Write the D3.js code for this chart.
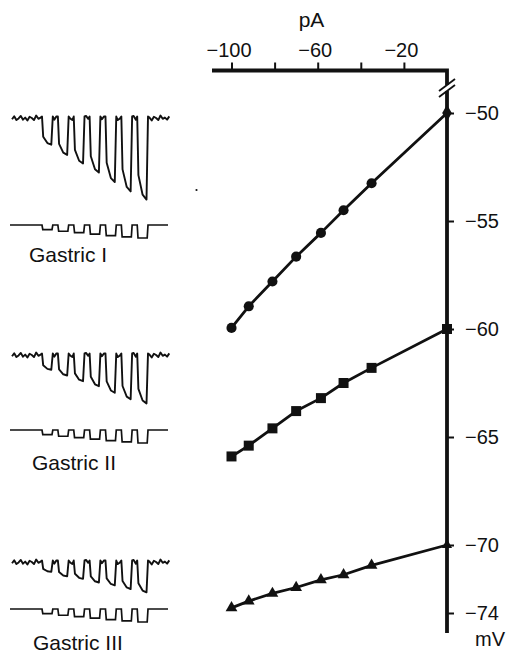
<!DOCTYPE html>
<html>
<head>
<meta charset="utf-8">
<script src="https://cdn.jsdelivr.net/npm/d3@7"></script>
<style>
  body { margin: 0; background: #fff; }
  text { font-family: "Liberation Sans", Arial, sans-serif; fill: #111; }
</style>
</head>
<body>
<script>
// injected current (pA) and the steady membrane potential (mV) it gave
var currents = [-100, -92, -81, -70, -58.5, -48, -35, 0];
var gastricI = [-59.95, -58.95, -57.8, -56.65, -55.55, -54.5, -53.25, -50];
var gastricII = [-65.9, -65.4, -64.6, -63.8, -63.2, -62.5, -61.8, -60];
var gastricIII = [-73.7, -73.3, -72.85, -72.5, -72.05, -71.75, -71.2, -70];
var names = ["Gastric I", "Gastric II", "Gastric III"];

var xTicks = [-100, -80, -60, -40, -20];
var xTickLabels = [-100, -60, -20];
var yTicks = [-50, -55, -60, -65, -70, -74];

// baseline wiggle of the recorded voltage traces (mV)
var noise = [0.15, -0.2, 0.25, 0.05, -0.25, 0.2, -0.05, 0.3, -0.15, 0.0, 0.25, -0.3, 0.1, -0.05, 0.2, -0.2, 0.05, 0.25, -0.25, 0.1];

var width = 507,
  height = 653;

var svg = d3
  .select("body")
  .append("svg")
  .attr("width", width)
  .attr("height", height);

var x = d3.scaleLinear().domain([-100, 0]).range([231.5, 447]);
// bottom part of the voltage axis is squeezed in the original
var y = d3.scaleLinear().domain([-50, -70, -74]).range([113, 545, 613]);

var axisTop = 70.5,
  axisLeft = 212,
  axisBottom = 633;

//------------AXES--------------
svg
  .append("g")
  .attr("transform", "translate(0," + axisTop + ")")
  .call(
    d3
      .axisTop(x)
      .tickValues(xTicks)
      .tickSize(8)
      .tickPadding(6)
      .tickFormat(function(d) {
        return xTickLabels.indexOf(d) >= 0 ? d3.format("d")(d) : "";
      })
  )
  .call(function(g) {
    g.select(".domain").remove();
    g.selectAll(".tick line").attr("stroke", "#111").attr("stroke-width", 2);
    g.selectAll(".tick text")
      .attr("font-size", 20)
      .attr("dx", -3)
      .style("font-family", '"Liberation Sans", Arial, sans-serif');
  });

svg
  .append("g")
  .attr("transform", "translate(" + x(0) + ",0)")
  .call(d3.axisRight(y).tickValues(yTicks).tickSize(7).tickPadding(11).tickFormat(d3.format("d")))
  .call(function(g) {
    g.select(".domain").remove();
    g.selectAll(".tick line").attr("stroke", "#111").attr("stroke-width", 2);
    g.selectAll(".tick text")
      .attr("font-size", 20)
      .style("font-family", '"Liberation Sans", Arial, sans-serif');
  });

// thick axis lines with a break near the corner
var breakY = 88;
svg
  .append("path")
  .attr("d", "M" + axisLeft + "," + axisTop + "H" + x(0) + "V" + (breakY - 3) + "M" + x(0) + "," + (breakY + 3) + "V" + axisBottom)
  .attr("fill", "none")
  .attr("stroke", "#111")
  .attr("stroke-width", 3.8)
  .attr("stroke-linejoin", "miter");

[-3, 3].forEach(function(o) {
  svg
    .append("line")
    .attr("x1", x(0) - 8)
    .attr("y1", breakY + o + 6)
    .attr("x2", x(0) + 8)
    .attr("y2", breakY + o - 6)
    .attr("stroke", "#111")
    .attr("stroke-width", 1.8);
});

svg.append("text").attr("x", 311.5).attr("y", 27).attr("text-anchor", "middle").attr("font-size", 21).text("pA");
svg.append("text").attr("x", 490).attr("y", 646).attr("text-anchor", "middle").attr("font-size", 20).text("mV");

//------------I-V LINES--------------
var series = [
  { vals: gastricI, shape: d3.symbolCircle, size: 80, end: d3.symbolDiamond, endSize: 80 },
  { vals: gastricII, shape: d3.symbolSquare, size: 100, end: d3.symbolSquare, endSize: 100 },
  { vals: gastricIII, shape: d3.symbolTriangle, size: 60, end: d3.symbolTriangle, endSize: 45 }
];

var line = d3
  .line()
  .x(function(d) { return x(d[0]); })
  .y(function(d) { return y(d[1]); });

series.forEach(function(s) {
  var pts = currents.map(function(c, i) { return [c, s.vals[i]]; });
  svg
    .append("path")
    .datum(pts)
    .attr("d", line)
    .attr("fill", "none")
    .attr("stroke", "#111")
    .attr("stroke-width", 2.8)
    .attr("stroke-linejoin", "round");

  svg
    .selectAll(null)
    .data(pts)
    .enter()
    .append("path")
    .attr("transform", function(d) { return "translate(" + x(d[0]) + "," + y(d[1]) + ")"; })
    .attr("d", function(d, i) {
      var last = i === pts.length - 1;
      return d3.symbol().type(last ? s.end : s.shape).size(last ? s.endSize : s.size)();
    })
    .attr("fill", "#111");
});

//------------SAMPLE TRACES--------------
var traceTop = [118, 355, 562],
  traceCmd = [225, 430, 609],
  labelY = [262, 470, 650],
  labelX = [29, 32, 33];

var pulseX = d3.scaleBand().domain(d3.range(7)).range([42, 148]).paddingInner(0.32);
var depthV = d3.scaleLinear().domain([0, 10]).range([0, 82]);
var depthI = d3.scaleLinear().domain([0, 100]).range([0, 13]);

var traceLine = d3.line();

function voltagePoints(vals, y0) {
  var rest = vals[vals.length - 1];
  var steps = vals.slice(0, 7).reverse();
  var pts = [],
    k = 0,
    cursor = 12;
  function wiggle(to) {
    for (; cursor < to; cursor += 2.2) {
      pts.push([cursor, y0 + depthV(noise[k++ % noise.length])]);
    }
  }
  steps.forEach(function(v, i) {
    var x0 = pulseX(i),
      w = pulseX.bandwidth(),
      d = depthV(rest - v);
    wiggle(x0);
    pts.push([x0, y0 - 1.5], [x0 + 1.2, y0 + d * 0.7], [x0 + w * 0.5, y0 + d * 0.94], [x0 + w - 1.5, y0 + d], [x0 + w, y0 - 1.5]);
    cursor = x0 + w + 1.5;
  });
  wiggle(171);
  return pts;
}

function commandPoints(y0) {
  var pts = [[10, y0]];
  currents
    .slice(0, 7)
    .reverse()
    .forEach(function(c, i) {
      var x0 = pulseX(i),
        w = pulseX.bandwidth(),
        d = depthI(-c);
      pts.push([x0, y0], [x0 + 0.8, y0 + d], [x0 + w - 0.8, y0 + d], [x0 + w, y0]);
    });
  pts.push([168, y0]);
  return pts;
}

series.forEach(function(s, i) {
  svg
    .append("path")
    .attr("d", traceLine(voltagePoints(s.vals, traceTop[i])))
    .attr("fill", "none")
    .attr("stroke", "#111")
    .attr("stroke-width", 1.9)
    .attr("stroke-linejoin", "round");

  svg
    .append("path")
    .attr("d", traceLine(commandPoints(traceCmd[i])))
    .attr("fill", "none")
    .attr("stroke", "#111")
    .attr("stroke-width", 1.7);

  svg
    .append("text")
    .attr("x", labelX[i])
    .attr("y", labelY[i])
    .attr("font-size", 21)
    .text(names[i]);
});

// stray speck in the scan
svg.append("circle").attr("cx", 196.5).attr("cy", 190).attr("r", 1.1).attr("fill", "#111");
</script>
</body>
</html>
